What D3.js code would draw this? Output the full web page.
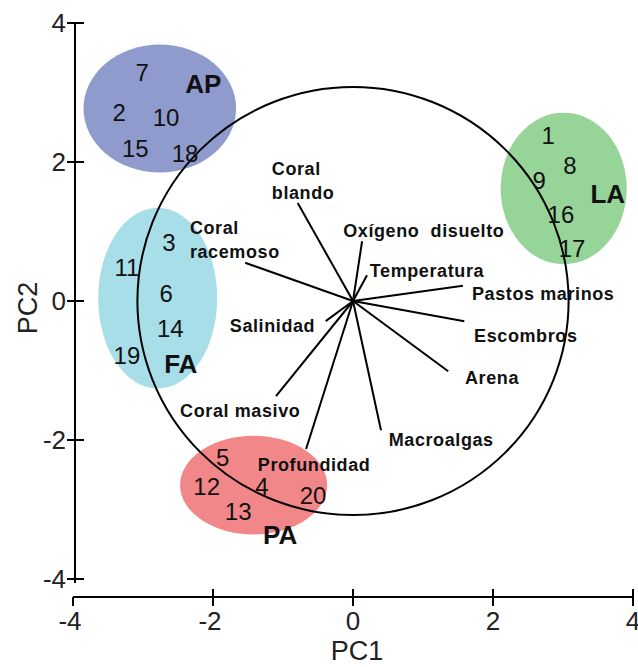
<!DOCTYPE html>
<html>
<head>
  <script src="https://d3js.org/d3.v7.min.js"></script>
  <style>
    body { margin: 0; background: #fff; }
    svg text { font-family: Arial, "Liberation Sans", sans-serif; }
  </style>
</head>
<body>
  <div id="chart"></div>
  <script>
    // groups (ellipses) in PC units
    var groupNames = ['AP', 'FA', 'PA', 'LA'];
    var groupCx = [-2.76, -2.79, -1.42, 3.01];
    var groupCy = [2.77, 0.04, -2.65, 1.62];
    var groupRx = [1.09, 0.85, 1.05, 0.90];
    var groupRy = [0.92, 1.30, 0.71, 1.09];
    var groupLabelX = [-2.14, -2.46, -1.04, 3.64];
    var groupLabelY = [3.13, -0.91, -3.36, 1.54];
    var groupColors = ['#8f9bcc', '#a8dee8', '#f2878a', '#96d597'];

    // sites
    var siteIds = ['7', '2', '10', '15', '18', '3', '11', '6', '14', '19', '5', '12', '4', '13', '20', '1', '8', '9', '16', '17'];
    var siteX = [-3.01, -3.34, -2.67, -3.11, -2.40, -2.63, -3.23, -2.67, -2.61, -3.23, -1.86, -2.09, -1.30, -1.64, -0.57, 2.79, 3.10, 2.66, 2.97, 3.13];
    var siteY = [3.29, 2.71, 2.64, 2.20, 2.12, 0.84, 0.48, 0.10, -0.39, -0.78, -2.26, -2.67, -2.67, -3.03, -2.80, 2.38, 1.95, 1.73, 1.25, 0.76];

    // variable loadings
    var varNames = [['Coral', 'blando'], ['Coral', 'racemoso'], ['Oxígeno  disuelto'], ['Temperatura'], ['Pastos marinos'], ['Escombros'], ['Arena'], ['Macroalgas'], ['Salinidad'], ['Coral masivo'], ['Profundidad']];
    var varX = [-0.79, -1.54, 0.13, 0.20, 1.57, 1.59, 1.36, 0.40, -0.39, -1.10, -0.67];
    var varY = [1.41, 0.55, 0.86, 0.37, 0.22, -0.29, -1.01, -1.86, -0.29, -1.37, -2.13];
    var varLabelX = [-1.16, -2.33, -0.14, 0.24, 1.70, 1.73, 1.60, 0.51, -1.76, -2.47, -1.36];
    var varLabelY = [1.90, 1.05, 1.01, 0.43, 0.10, -0.50, -1.11, -1.99, -0.36, -1.58, -2.35];

    var circleR = 3.08;
    var ticks = [-4, -2, 0, 2, 4];

    var svg = d3.select('#chart').append('svg')
      .attr('width', 638)
      .attr('height', 667);

    var x = d3.scaleLinear().domain([-4, 4]).range([73, 633]);
    var y = d3.scaleLinear().domain([-4, 4]).range([579, 23]);
    var kx = x(1) - x(0), ky = y(0) - y(1);

    // ellipses
    svg.selectAll('.grp')
      .data(groupNames)
      .enter()
      .append('ellipse')
      .attr('cx', function(d, i) { return x(groupCx[i]); })
      .attr('cy', function(d, i) { return y(groupCy[i]); })
      .attr('rx', function(d, i) { return groupRx[i] * kx; })
      .attr('ry', function(d, i) { return groupRy[i] * ky; })
      .attr('fill', function(d, i) { return groupColors[i]; });

    // correlation circle
    svg.append('ellipse')
      .attr('cx', x(0)).attr('cy', y(0))
      .attr('rx', circleR * kx).attr('ry', circleR * ky)
      .attr('fill', 'none').attr('stroke', '#000').attr('stroke-width', 2);

    // vectors
    svg.selectAll('.vec')
      .data(varNames)
      .enter()
      .append('line')
      .attr('x1', x(0)).attr('y1', y(0))
      .attr('x2', function(d, i) { return x(varX[i]); })
      .attr('y2', function(d, i) { return y(varY[i]); })
      .attr('stroke', '#000').attr('stroke-width', 2);

    var vlab = svg.selectAll('.vlab')
      .data(varNames)
      .enter()
      .append('text')
      .attr('x', function(d, i) { return x(varLabelX[i]); })
      .attr('y', function(d, i) { return y(varLabelY[i]); })
      .style('font-size', '18px')
      .style('font-weight', 'bold')
      .style('letter-spacing', '0.6px')
      .style('white-space', 'pre')
      .attr('fill', '#111');
    vlab.each(function(d, i) {
      var t = d3.select(this);
      d.forEach(function(line, j) {
        t.append('tspan')
          .attr('x', x(varLabelX[i]))
          .attr('dy', j === 0 ? '0.35em' : '1.3em')
          .text(line);
      });
    });

    // site numbers
    svg.selectAll('.site')
      .data(siteIds)
      .enter()
      .append('text')
      .attr('x', function(d, i) { return x(siteX[i]); })
      .attr('y', function(d, i) { return y(siteY[i]); })
      .attr('dy', '0.35em')
      .attr('text-anchor', 'middle')
      .style('font-size', '24px')
      .attr('fill', '#111')
      .text(function(d) { return d; });

    svg.selectAll('.glab')
      .data(groupNames)
      .enter()
      .append('text')
      .attr('x', function(d, i) { return x(groupLabelX[i]); })
      .attr('y', function(d, i) { return y(groupLabelY[i]); })
      .attr('dy', '0.35em')
      .attr('text-anchor', 'middle')
      .style('font-size', '26px')
      .style('font-weight', 'bold')
      .attr('fill', '#111')
      .text(function(d) { return d; });

    // axes
    var axisY = 597, axisX = 75;
    svg.append('line')
      .attr('x1', x(-4)).attr('x2', x(4))
      .attr('y1', axisY).attr('y2', axisY)
      .attr('stroke', '#000').attr('stroke-width', 2);
    svg.selectAll('.xt')
      .data(ticks)
      .enter()
      .append('line')
      .attr('x1', function(d) { return x(d); })
      .attr('x2', function(d) { return x(d); })
      .attr('y1', function(d) { return d === -4 ? axisY : axisY - 8; })
      .attr('y2', axisY + 9)
      .attr('stroke', '#000').attr('stroke-width', 2);
    svg.selectAll('.xl')
      .data(ticks)
      .enter()
      .append('text')
      .attr('x', function(d) { return x(d) + (d < 0 ? -3 : 0); })
      .attr('y', 630)
      .attr('text-anchor', 'middle')
      .style('font-size', '26px')
      .attr('fill', '#222')
      .text(function(d) { return d; });

    svg.append('line')
      .attr('x1', axisX).attr('x2', axisX)
      .attr('y1', y(4)).attr('y2', y(-4) + 4)
      .attr('stroke', '#000').attr('stroke-width', 2);
    svg.selectAll('.yt')
      .data(ticks)
      .enter()
      .append('line')
      .attr('x1', axisX - 8).attr('x2', axisX + 9)
      .attr('y1', function(d) { return y(d); })
      .attr('y2', function(d) { return y(d); })
      .attr('stroke', '#000').attr('stroke-width', 2);
    svg.selectAll('.yl')
      .data(ticks)
      .enter()
      .append('text')
      .attr('x', axisX - 9)
      .attr('y', function(d) { return y(d); })
      .attr('dy', '0.35em')
      .attr('text-anchor', 'end')
      .style('font-size', '26px')
      .attr('fill', '#222')
      .text(function(d) { return d; });

    svg.append('text')
      .attr('x', x(0) + 4)
      .attr('y', 660)
      .attr('text-anchor', 'middle')
      .style('font-size', '27px')
      .attr('fill', '#222')
      .text('PC1');
    svg.append('text')
      .attr('transform', 'translate(37,' + y(-0.1) + ') rotate(-90)')
      .attr('text-anchor', 'middle')
      .style('font-size', '27px')
      .attr('fill', '#222')
      .text('PC2');
  </script>
</body>
</html>
